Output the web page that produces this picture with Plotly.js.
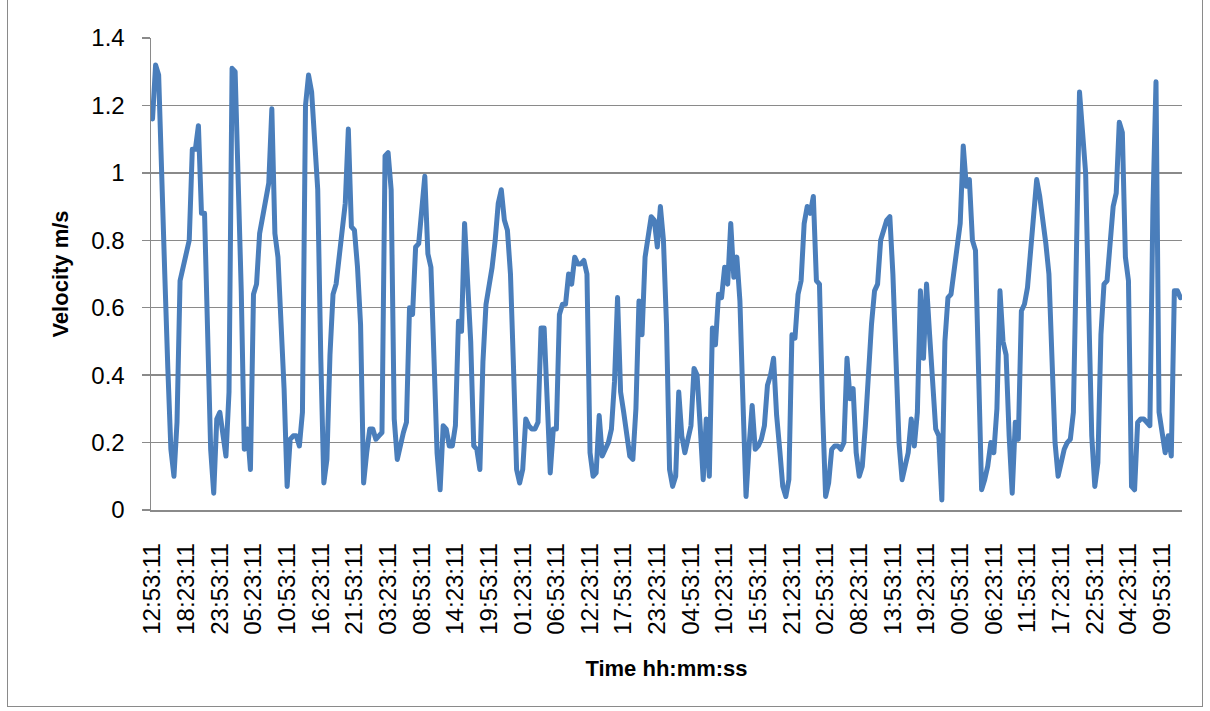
<!DOCTYPE html>
<html>
<head>
<meta charset="utf-8">
<script src="https://cdn.plot.ly/plotly-3.0.1.min.js"></script>
<style>
  html, body { margin: 0; padding: 0; background: #fff; }
  #wrap { position: relative; width: 1210px; height: 711px; }
  #chart { width: 1210px; height: 711px; }
  #frame { position: absolute; left: 7px; top: -2px; width: 1196px; height: 709px;
           border: 1.5px solid #8a8a8a; pointer-events: none; box-sizing: border-box; }
  .scatterlayer path.js-line { stroke-linejoin: round; stroke-linecap: round; }
</style>
</head>
<body>
<div id="wrap">
  <div id="chart"></div>
  <div id="frame"></div>
</div>
<script>
// Half-hourly velocity readings (m/s)
const velocity = [
  1.16, 1.32, 1.29, 0.95, 0.70, 0.42, 0.18, 0.10, 0.26, 0.68,
  0.72, 0.75, 0.80, 1.07, 1.07, 1.14, 0.88, 0.88, 0.55, 0.18,
  0.05, 0.27, 0.29, 0.22, 0.16, 0.35, 1.31, 1.30, 0.98, 0.65,
  0.18, 0.24, 0.12, 0.64, 0.67, 0.82, 0.87, 0.92, 0.97, 1.19,
  0.82, 0.75, 0.58, 0.36, 0.07, 0.21, 0.22, 0.22, 0.19, 0.29,
  1.20, 1.29, 1.24, 1.10, 0.95, 0.45, 0.08, 0.15, 0.46, 0.64,
  0.67, 0.75, 0.83, 0.91, 1.13, 0.84, 0.83, 0.72, 0.55, 0.08,
  0.17, 0.24, 0.24, 0.21, 0.22, 0.23, 1.05, 1.06, 0.95, 0.27,
  0.15, 0.20, 0.23, 0.26, 0.60, 0.58, 0.78, 0.79, 0.88, 0.99,
  0.76, 0.72, 0.45, 0.17, 0.06, 0.25, 0.24, 0.19, 0.19, 0.25,
  0.56, 0.53, 0.85, 0.70, 0.50, 0.19, 0.18, 0.12, 0.44, 0.61,
  0.66, 0.72, 0.80, 0.91, 0.95, 0.86, 0.83, 0.70, 0.42, 0.12,
  0.08, 0.12, 0.27, 0.25, 0.24, 0.24, 0.26, 0.54, 0.54, 0.32,
  0.11, 0.24, 0.24, 0.58, 0.61, 0.61, 0.70, 0.67, 0.75, 0.73,
  0.73, 0.74, 0.70, 0.17, 0.10, 0.11, 0.28, 0.16, 0.18, 0.20,
  0.24, 0.38, 0.63, 0.35, 0.29, 0.22, 0.16, 0.15, 0.30, 0.62,
  0.52, 0.75, 0.82, 0.87, 0.86, 0.78, 0.90, 0.80, 0.55, 0.12,
  0.07, 0.10, 0.35, 0.22, 0.17, 0.21, 0.25, 0.42, 0.40, 0.25,
  0.09, 0.27, 0.10, 0.54, 0.49, 0.64, 0.63, 0.72, 0.67, 0.85,
  0.69, 0.75, 0.62, 0.32, 0.04, 0.19, 0.31, 0.18, 0.19, 0.21,
  0.25, 0.37, 0.40, 0.45, 0.28, 0.18, 0.07, 0.04, 0.09, 0.52,
  0.51, 0.64, 0.68, 0.85, 0.90, 0.88, 0.93, 0.68, 0.67, 0.30,
  0.04, 0.08, 0.18, 0.19, 0.19, 0.18, 0.20, 0.45, 0.33, 0.36,
  0.17, 0.10, 0.13, 0.25, 0.42, 0.55, 0.65, 0.67, 0.80, 0.83,
  0.86, 0.87, 0.70, 0.45, 0.20, 0.09, 0.13, 0.17, 0.27, 0.19,
  0.29, 0.65, 0.45, 0.67, 0.52, 0.37, 0.24, 0.22, 0.03, 0.50,
  0.63, 0.64, 0.72, 0.78, 0.85, 1.08, 0.96, 0.98, 0.80, 0.77,
  0.37, 0.06, 0.09, 0.13, 0.20, 0.17, 0.30, 0.65, 0.50, 0.46,
  0.22, 0.05, 0.26, 0.21, 0.59, 0.61, 0.66, 0.78, 0.88, 0.98,
  0.93, 0.87, 0.79, 0.70, 0.42, 0.20, 0.10, 0.14, 0.18, 0.20,
  0.21, 0.29, 0.76, 1.24, 1.12, 1.00, 0.60, 0.22, 0.07, 0.14,
  0.52, 0.67, 0.68, 0.81, 0.90, 0.94, 1.15, 1.12, 0.75, 0.68,
  0.07, 0.06, 0.26, 0.27, 0.27, 0.26, 0.25, 0.90, 1.27, 0.29,
  0.22, 0.17, 0.22, 0.16, 0.65, 0.65, 0.63
];

// Time labels shown on the category axis (one every 11 readings)
const tickLabels = [
  "12:53:11", "18:23:11", "23:53:11", "05:23:11", "10:53:11", "16:23:11",
  "21:53:11", "03:23:11", "08:53:11", "14:23:11", "19:53:11", "01:23:11",
  "06:53:11", "12:23:11", "17:53:11", "23:23:11", "04:53:11", "10:23:11",
  "15:53:11", "21:23:11", "02:53:11", "08:23:11", "13:53:11", "19:23:11",
  "00:53:11", "06:23:11", "11:53:11", "17:23:11", "22:53:11", "04:23:11",
  "09:53:11"
];
const labelStep = 11;

const xIndex = velocity.map((_, i) => i);
const tickPositions = tickLabels.map((_, k) => k * labelStep);

const FONT = "Liberation Sans, Arial, sans-serif";
const GRID = "#8a8a8a";

const trace = {
  x: xIndex,
  y: velocity,
  type: "scatter",
  mode: "lines",
  line: { color: "#4a7ebb", width: 5 },
  hoverinfo: "skip"
};

const layout = {
  width: 1210,
  height: 711,
  margin: { l: 151, r: 28, t: 38, b: 201 },
  paper_bgcolor: "#ffffff",
  plot_bgcolor: "#ffffff",
  showlegend: false,
  font: { family: FONT, color: "#000000" },
  xaxis: {
    range: [-0.5, velocity.length - 0.5],
    tickmode: "array",
    tickvals: tickPositions,
    ticktext: tickLabels,
    tickangle: -90,
    tickfont: { family: FONT, size: 24, color: "#000000" },
    ticks: "",
    ticklabelstandoff: 22,
    showgrid: false,
    zeroline: false,
    showline: true,
    linecolor: GRID,
    linewidth: 1.5,
    title: {
      text: "<b>Time hh:mm:ss</b>",
      font: { family: FONT, size: 22, color: "#000000" },
      standoff: 27
    }
  },
  yaxis: {
    range: [0, 1.4],
    tickmode: "linear",
    tick0: 0,
    dtick: 0.2,
    tickfont: { family: FONT, size: 24, color: "#000000" },
    ticks: "outside",
    ticklen: 8,
    tickwidth: 1.3,
    tickcolor: GRID,
    ticklabelstandoff: 12,
    showgrid: true,
    gridcolor: GRID,
    gridwidth: 1.3,
    zeroline: false,
    showline: true,
    linecolor: GRID,
    linewidth: 1.5,
    title: {
      text: "<b>Velocity m/s</b>",
      font: { family: FONT, size: 22, color: "#000000" },
      standoff: 16
    }
  }
};

Plotly.newPlot("chart", [trace], layout, { staticPlot: true, displayModeBar: false });
</script>
</body>
</html>
